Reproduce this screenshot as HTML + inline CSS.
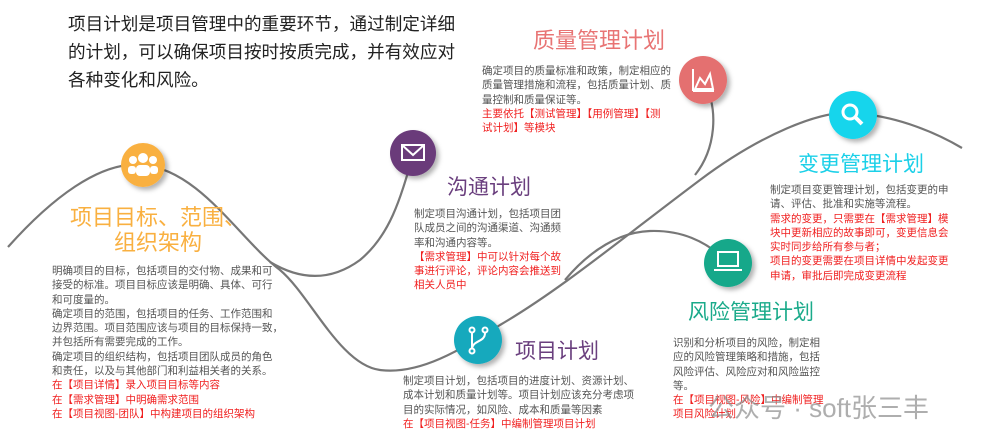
<!DOCTYPE html>
<html><head><meta charset="utf-8">
<style>
body{margin:0;width:982px;height:442px;background:#fff;position:relative;overflow:hidden;font-family:"Liberation Sans","Noto Sans CJK SC",sans-serif;}
.t{position:absolute;white-space:nowrap;}
.b{position:absolute;font-size:10.5px;line-height:14.3px;color:#555;white-space:nowrap;}
.r{color:#f02020;}
.h{position:absolute;white-space:nowrap;font-size:21px;line-height:24px;}
</style></head><body>
<svg width="982" height="442" style="position:absolute;left:0;top:0">
<defs><filter id="s" x="-50%" y="-50%" width="200%" height="200%"><feDropShadow dx="3" dy="3" stdDeviation="2.5" flood-color="#000" flood-opacity="0.3"/></filter></defs>
<g fill="none" stroke="#777" stroke-width="2.2">
<path d="M8,247 C50,200 100,160 143,165 C200,170 240,240 280,270 C310,295 340,365 380,370 C420,375 460,350 500,325 C560,290 620,240 700,180 C760,135 820,110 853,113 C900,116 940,135 962,148"/>
<path d="M270,262 C300,280 330,282 360,260 C390,235 400,200 413,155"/>
<path d="M703,80 C720,110 715,150 695,175"/>
<path d="M565,280 C590,250 620,232 650,231 C680,230 705,240 728,262"/>
</g>
<g filter="url(#s)">
<circle cx="143" cy="165" r="22" fill="#f9b040"/>
<circle cx="413" cy="153" r="23" fill="#6a3a7a"/>
<circle cx="703" cy="80" r="24" fill="#e46f6f"/>
<circle cx="853" cy="115" r="24" fill="#14d5ec"/>
<circle cx="728" cy="263" r="24" fill="#12a88a"/>
<circle cx="478" cy="340" r="24" fill="#14a9bd"/>
</g>
<g fill="#fff"><circle cx="143" cy="158" r="5"/><circle cx="133" cy="160" r="4"/><circle cx="153" cy="160" r="4"/><rect x="136" y="165" width="14" height="11" rx="4"/><rect x="128" y="166" width="8" height="8" rx="3"/><rect x="150" y="166" width="8" height="8" rx="3"/></g>
<g fill="none" stroke="#fff" stroke-width="2"><rect x="402" y="145" width="22" height="15"/><path d="M402,145 L413,155 L424,145"/>
<path d="M693,91 V69 M693,91 H714 M695,89 L700,78 L705,84 L710,74 L713,89 Z"/>
<circle cx="850" cy="112" r="7" stroke-width="3"/><path d="M855,117 L862,124" stroke-width="4"/>
<rect x="718" y="252" width="20" height="14"/><path d="M714,270 H742"/>
<circle cx="472" cy="330" r="2.5"/><circle cx="485" cy="330" r="2.5"/><circle cx="472" cy="351" r="2.5"/><path d="M472,333 V348 M485,333 C485,342 474,340 472,348"/></g>
</svg>
<div class="t" style="left:68px;top:10px;font-size:17.6px;line-height:28px;color:#222">项目计划是项目管理中的重要环节，通过制定详细<br>的计划，可以确保项目按时按质完成，并有效应对<br>各种变化和风险。</div>
<div class="h" style="left:70px;top:205px;font-size:22px;line-height:25px;color:#f9b040;text-align:center">项目目标、范围、<br>组织架构</div>
<div class="b" style="left:52px;top:264px">明确项目的目标，包括项目的交付物、成果和可<br>接受的标准。项目目标应该是明确、具体、可行<br>和可度量的。<br>确定项目的范围，包括项目的任务、工作范围和<br>边界范围。项目范围应该与项目的目标保持一致，<br>并包括所有需要完成的工作。<br>确定项目的组织结构，包括项目团队成员的角色<br>和责任，以及与其他部门和利益相关者的关系。<br><span class="r">在【项目详情】录入项目目标等内容<br>在【需求管理】中明确需求范围<br>在【项目视图-团队】中构建项目的组织架构</span></div>
<div class="h" style="left:533px;top:29px;font-size:22px;color:#e87474">质量管理计划</div>
<div class="b" style="left:482px;top:64px">确定项目的质量标准和政策，制定相应的<br>质量管理措施和流程，包括质量计划、质<br>量控制和质量保证等。<br><span class="r">主要依托【测试管理】【用例管理】【测<br>试计划】等模块</span></div>
<div class="h" style="left:447px;top:176px;color:#6a3f7e">沟通计划</div>
<div class="b" style="left:414px;top:207px">制定项目沟通计划，包括项目团<br>队成员之间的沟通渠道、沟通频<br>率和沟通内容等。<br><span class="r">【需求管理】中可以针对每个故<br>事进行评论，评论内容会推送到<br>相关人员中</span></div>
<div class="h" style="left:798px;top:153px;color:#1bd0e8">变更管理计划</div>
<div class="b" style="left:770px;top:183px">制定项目变更管理计划，包括变更的申<br>请、评估、批准和实施等流程。<br><span class="r">需求的变更，只需要在【需求管理】模<br>块中更新相应的故事即可，变更信息会<br>实时同步给所有参与者；<br>项目的变更需要在项目详情中发起变更<br>申请，审批后即完成变更流程</span></div>
<div class="h" style="left:688px;top:301px;color:#1aaa8a">风险管理计划</div>
<div class="b" style="left:673px;top:336px">识别和分析项目的风险，制定相<br>应的风险管理策略和措施，包括<br>风险评估、风险应对和风险监控<br>等。<br><span class="r">在【项目视图-风险】中编制管理<br>项目风险计划</span></div>
<div class="h" style="left:515px;top:340px;color:#6a3f7e">项目计划</div>
<div class="b" style="left:403px;top:374px">制定项目计划，包括项目的进度计划、资源计划、<br>成本计划和质量计划等。项目计划应该充分考虑项<br>目的实际情况，如风险、成本和质量等因素<br><span class="r">在【项目视图-任务】中编制管理项目计划</span></div>
<div class="t" style="left:708px;top:388px;font-size:26px;color:rgba(140,140,140,0.7)">公众号 · soft张三丰</div>
</body></html>
